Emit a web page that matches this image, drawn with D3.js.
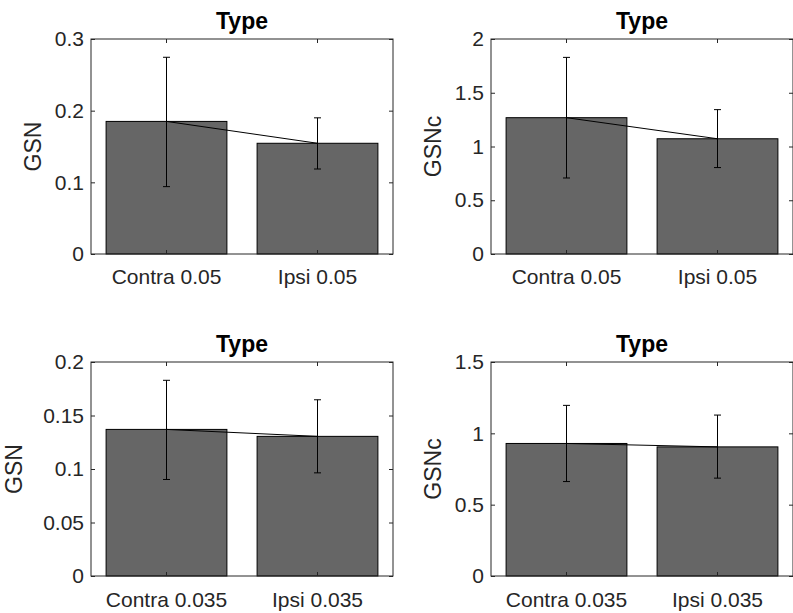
<!DOCTYPE html>
<html lang="en">
<head>
<meta charset="UTF-8">
<title>GSN by type</title>
<style>
  body { margin: 0; background: #fff; }
  svg { display: block; }
  .tick text { font-family: "Liberation Sans", Arial, sans-serif; fill: #262626; }
  .tick line { stroke: #262626; }
  .marco { fill: none; stroke: #262626; stroke-width: 1px; }
  .barra { fill: #666666; stroke: #000; stroke-width: 1px; }
  .unir { fill: none; stroke: #000; stroke-width: 1px; }
  .err { stroke: #000; stroke-width: 1px; }
</style>
<script src="https://cdn.jsdelivr.net/npm/d3@7"></script>
</head>
<body>
<script>
// categorias
var catsTop = ["Contra 0.05", "Ipsi 0.05"];
var catsBottom = ["Contra 0.035", "Ipsi 0.035"];

// valores medios y extremos de las barras de error
var gsn05 = [0.185, 0.1545];
var gsn05Lo = [0.094, 0.1186];
var gsn05Hi = [0.2745, 0.19];

var gsnc05 = [1.268, 1.072];
var gsnc05Lo = [0.707, 0.804];
var gsnc05Hi = [1.829, 1.343];

var gsn035 = [0.137, 0.1305];
var gsn035Lo = [0.0902, 0.0964];
var gsn035Hi = [0.1829, 0.1647];

var gsnc035 = [0.929, 0.905];
var gsnc035Lo = [0.662, 0.686];
var gsnc035Hi = [1.196, 1.128];

// ticks del eje y
var ticksGsn05 = [0, 0.1, 0.2, 0.3];
var ticksGsnc05 = [0, 0.5, 1, 1.5, 2];
var ticksGsn035 = [0, 0.05, 0.1, 0.15, 0.2];
var ticksGsnc035 = [0, 0.5, 1, 1.5];

var svg = d3.select("body").append("svg")
  .attr("width", 793)
  .attr("height", 613);

function panel(cfg) {
  var w = 302, h = cfg.h;
  var g = svg.append("g")
    .attr("transform", "translate(" + cfg.x + "," + cfg.y + ")");

  var x = d3.scaleBand().domain(cfg.cats).range([0, w])
    .paddingInner(0.2).paddingOuter(0.1);
  var y = d3.scaleLinear().domain([0, cfg.max]).range([h, 0]);

  var datos = cfg.cats.map(function(c, i) {
    return { cat: c, v: cfg.vals[i], lo: cfg.lo[i], hi: cfg.hi[i] };
  });

  // barras
  g.selectAll(".barra").data(datos).enter().append("rect")
    .attr("class", "barra")
    .attr("x", function(d) { return x(d.cat); })
    .attr("y", function(d) { return y(d.v); })
    .attr("width", x.bandwidth())
    .attr("height", function(d) { return h - y(d.v); });

  // linea entre las medias
  var cx = function(d) { return x(d.cat) + x.bandwidth() / 2; };
  g.append("path").datum(datos).attr("class", "unir")
    .attr("d", d3.line().x(cx).y(function(d) { return y(d.v); }));

  // barras de error
  var eb = g.selectAll(".eb").data(datos).enter().append("g");
  eb.append("line").attr("class", "err")
    .attr("x1", cx).attr("x2", cx)
    .attr("y1", function(d) { return y(d.lo); })
    .attr("y2", function(d) { return y(d.hi); });
  ["lo", "hi"].forEach(function(k) {
    eb.append("line").attr("class", "err")
      .attr("x1", function(d) { return cx(d) - 3.5; })
      .attr("x2", function(d) { return cx(d) + 3.5; })
      .attr("y1", function(d) { return y(d[k]); })
      .attr("y2", function(d) { return y(d[k]); });
  });

  // ejes
  var ejeY = g.append("g")
    .call(d3.axisLeft(y).tickValues(cfg.ticks).tickSize(-4).tickPadding(7)
      .tickFormat(function(d) { return String(d); }));
  ejeY.selectAll("text").style("font-size", "21px");
  g.append("g").attr("transform", "translate(" + w + ",0)")
    .call(d3.axisRight(y).tickValues(cfg.ticks).tickSize(-4).tickFormat(""));

  var ejeX = g.append("g").attr("transform", "translate(0," + h + ")")
    .call(d3.axisBottom(x).tickSize(-4).tickPadding(cfg.padX));
  ejeX.selectAll("text").style("font-size", "21px");
  g.append("g").call(d3.axisTop(x).tickSize(-4).tickFormat(""));
  g.selectAll(".domain").remove();

  g.append("rect").attr("class", "marco")
    .attr("x", 0).attr("y", 0).attr("width", w).attr("height", h);

  // titulo y etiqueta
  g.append("text")
    .attr("x", w / 2).attr("y", -10)
    .attr("text-anchor", "middle")
    .style("font-family", "Liberation Sans, Arial, sans-serif")
    .style("font-weight", "bold").style("font-size", "23px")
    .text("Type");

  g.append("text")
    .attr("transform", "translate(" + cfg.labX + "," + (h / 2) + ") rotate(-90)")
    .attr("text-anchor", "middle")
    .style("font-family", "Liberation Sans, Arial, sans-serif")
    .style("font-size", "23px").style("fill", "#262626")
    .text(cfg.label);
}

panel({ x: 91, y: 39, h: 215, cats: catsTop, vals: gsn05, lo: gsn05Lo, hi: gsn05Hi,
        max: 0.3, ticks: ticksGsn05, label: "GSN", labX: -50, padX: 15 });
panel({ x: 491, y: 39, h: 215, cats: catsTop, vals: gsnc05, lo: gsnc05Lo, hi: gsnc05Hi,
        max: 2, ticks: ticksGsnc05, label: "GSNc", labX: -50, padX: 15 });
panel({ x: 91, y: 362, h: 214, cats: catsBottom, vals: gsn035, lo: gsn035Lo, hi: gsn035Hi,
        max: 0.2, ticks: ticksGsn035, label: "GSN", labX: -69, padX: 16 });
panel({ x: 491, y: 362, h: 214, cats: catsBottom, vals: gsnc035, lo: gsnc035Lo, hi: gsnc035Hi,
        max: 1.5, ticks: ticksGsnc035, label: "GSNc", labX: -50, padX: 16 });
</script>
</body>
</html>
